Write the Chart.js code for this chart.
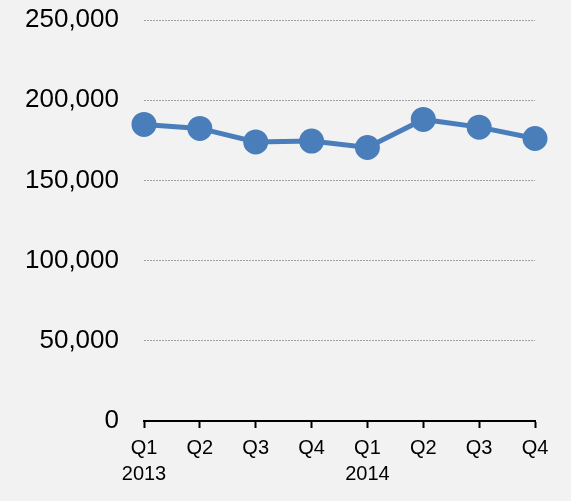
<!DOCTYPE html>
<html>
<head>
<meta charset="utf-8">
<script src="https://cdn.jsdelivr.net/npm/chart.js@4/dist/chart.umd.min.js"></script>
<style>
    body { margin: 0; background: #f2f2f2; }
    canvas { display: block; }
</style>
</head>
<body>
<canvas id="chart_quarter" width="571" height="501"></canvas>
<script>
// data
var quarters = ['Q1', 'Q2', 'Q3', 'Q4', 'Q1', 'Q2', 'Q3', 'Q4'];
var years = ['2013', '', '', '', '2014', '', '', ''];
var values = [184900, 182400, 174000, 174500, 170500, 188000, 183200, 176100];
var yTicks = [0, 50000, 100000, 150000, 200000, 250000];

var lineColor = '#4a7ebb';

var labels = quarters.map(function (q, i) {
    return years[i] ? [q, years[i]] : q;
});

new Chart(document.getElementById('chart_quarter').getContext('2d'), {
    type: 'line',
    data: {
        labels: labels,
        datasets: [
            {
                data: values,
                borderColor: lineColor,
                backgroundColor: lineColor,
                borderWidth: 5,
                pointRadius: 10,
                pointBackgroundColor: lineColor,
                pointBorderColor: lineColor,
                tension: 0,
                clip: false
            }
        ]
    },
    options: {
        responsive: false,
        devicePixelRatio: 1,
        animation: false,
        layout: { padding: { top: 20, right: 36, left: 0, bottom: 0 } },
        plugins: {
            legend: { display: false },
            tooltip: { enabled: false }
        },
        scales: {
            x: {
                offset: false,
                grid: {
                    display: true,
                    drawOnChartArea: false,
                    drawTicks: true,
                    tickLength: 7,
                    tickColor: '#000',
                    tickWidth: 2
                },
                border: { display: true, color: '#000', width: 2 },
                ticks: {
                    color: '#000',
                    autoSkip: false,
                    maxRotation: 0,
                    padding: 7,
                    font: { family: '"Liberation Sans", Arial, sans-serif', size: 20, lineHeight: 1.3 }
                },
                afterFit: function (scale) {
                    scale.height = 80;
                    scale.paddingLeft = 0;
                    scale.paddingRight = 0;
                }
            },
            y: {
                min: 0,
                max: 250000,
                afterBuildTicks: function (scale) {
                    scale.ticks = yTicks.map(function (v) { return { value: v }; });
                },
                grid: {
                    color: '#a0a0a0',
                    lineWidth: 1,
                    drawTicks: false
                },
                border: { display: false, dash: [2, 1] },
                ticks: {
                    color: '#000',
                    padding: 25,
                    font: { family: '"Liberation Sans", Arial, sans-serif', size: 26 },
                    callback: function (v) { return v.toLocaleString('en-US'); }
                },
                afterFit: function (scale) {
                    scale.width = 144;
                    scale.paddingTop = 0;
                    scale.paddingBottom = 0;
                }
            }
        }
    }
});
</script>
</body>
</html>
